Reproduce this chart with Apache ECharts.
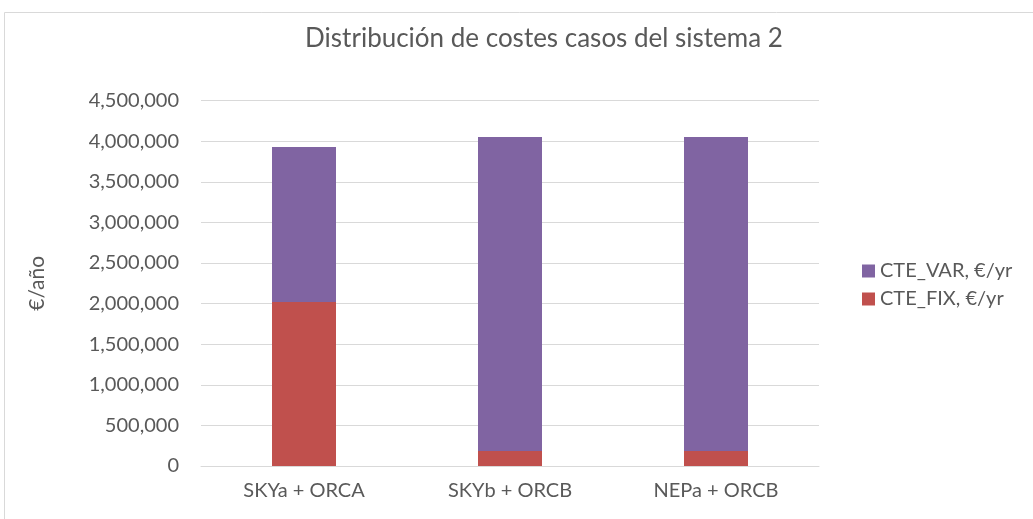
<!DOCTYPE html>
<html><head><meta charset="utf-8">
<script src="https://cdn.jsdelivr.net/npm/echarts@6/dist/echarts.min.js"></script>
<style>html,body{margin:0;padding:0;background:#fff}#c{width:1033px;height:519px}</style>
</head><body><div id="c"></div>
<script>
const categories = ["SKYa + ORCA", "SKYb + ORCB", "NEPa + ORCB"];
const cteFix = [2020000, 185000, 185000];
const cteVar = [1908000, 3866000, 3866000];
const seriesNames = ["CTE_FIX, €/yr", "CTE_VAR, €/yr"];
const titleText = "Distribución de costes casos del sistema 2";
const yAxisName = "€/año";

const chart = echarts.init(document.getElementById('c'), null, {renderer: 'canvas'});
const font = 'Lato';
chart.setOption({
  animation: false,
  backgroundColor: '#fff',
  graphic: [{type: 'rect', shape: {x: 4.5, y: 12.5, width: 1040, height: 520}, style: {fill: 'none', stroke: '#d9d9d9', lineWidth: 1}}],
  title: {text: titleText, left: 539, top: 21, textAlign: 'center',
    textStyle: {fontFamily: font, fontSize: 26, fontWeight: 'normal', color: '#595959'}},
  legend: {orient: 'vertical', left: 857, top: 256, itemWidth: 13, itemHeight: 13, itemGap: 8,
    data: [seriesNames[1], seriesNames[0]],
    textStyle: {fontFamily: font, fontSize: 20, color: '#595959'}, icon: 'rect'},
  grid: {left: 201, right: 214, top: 100.6, bottom: 53},
  xAxis: {type: 'category', data: categories,
    axisLine: {lineStyle: {color: '#d9d9d9', width: 1}}, axisTick: {show: false},
    axisLabel: {fontFamily: font, fontSize: 20, color: '#595959', margin: 15}},
  yAxis: {type: 'value', min: 0, max: 4500000, interval: 500000,
    name: yAxisName, nameLocation: 'middle', nameGap: 153, nameRotate: 90,
    nameTextStyle: {fontFamily: font, fontSize: 21, color: '#595959'},
    axisLine: {show: false}, axisTick: {show: false},
    splitLine: {lineStyle: {color: '#d9d9d9', width: 1}},
    axisLabel: {fontFamily: font, fontSize: 20, color: '#595959', margin: 22,
      formatter: v => v.toLocaleString('en-US')}},
  series: [
    {name: seriesNames[0], type: 'bar', stack: 's', data: cteFix, barWidth: 64, itemStyle: {color: '#c0504d'}},
    {name: seriesNames[1], type: 'bar', stack: 's', data: cteVar, barWidth: 64, itemStyle: {color: '#8064a2'}}
  ]
});
</script></body></html>
